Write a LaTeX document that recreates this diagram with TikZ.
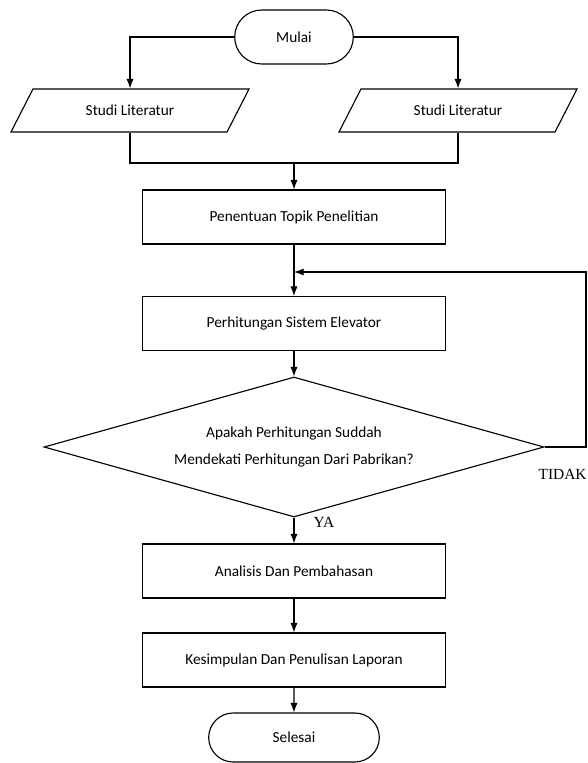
\documentclass[tikz,border=0pt]{standalone}
\usepackage{fontspec}
\setmainfont{Carlito}
\newfontfamily\tnr{Liberation Serif}
\usetikzlibrary{shapes,arrows.meta}
\newcommand{\terminal}[6]{\node[draw,rounded rectangle,minimum width=#4cm,minimum height=#5cm] (#1) at (#2,#3) {#6};}
\newcommand{\proses}[4]{\node[draw,rectangle,minimum width=7.575cm,minimum height=1.35cm] (#1) at (#2,#3) {#4};}
\newcommand{\data}[4]{\node[draw,trapezium,trapezium left angle=42.5,trapezium right angle=137.5,trapezium stretches body,minimum width=5.95cm,minimum height=1.075cm] (#1) at (#2,#3) {#4};}
\newcommand{\keputusan}[4]{\node[draw,diamond,aspect=3.6,inner sep=0pt,minimum width=12.5cm,minimum height=3.5cm,align=center] (#1) at (#2,#3) {#4};}
\newcommand{\link}[2]{\draw (#1) -- (#2);}
\newcommand{\linkArrow}[2]{\draw[->] (#1) -- (#2);}
\newcommand{\jawab}[4]{\node[font={\tnr\fontsize{11}{13}\selectfont},anchor=base west,inner sep=0pt] (#1) at (#2,#3) {#4};}

\begin{document}
\begin{tikzpicture}[line width=0.8pt,>={Latex[length=2.4mm,width=1.8mm]},font=\fontsize{10.9}{19.9}\selectfont]
    \useasboundingbox (-7.35,0) rectangle (7.35,-19.075);
    \terminal{mulai}{0}{-0.925}{3.2}{1.35}{Mulai}
    \data{studiA}{-4.1}{-2.7625}{Studi Literatur}    \data{studiB}{4.1}{-2.7625}{Studi Literatur}
    \proses{topik}{0}{-5.425}{Penentuan Topik Penelitian}
    \proses{hitung}{0}{-8.0875}{Perhitungan Sistem Elevator}
    \keputusan{cek}{0}{-11.175}{Apakah Perhitungan Suddah\\Mendekati Perhitungan Dari Pabrikan?}
    \proses{analisis}{0}{-14.275}{Analisis Dan Pembahasan}
    \proses{simpulan}{0}{-16.5}{Kesimpulan Dan Penulisan Laporan}
    \terminal{selesai}{0}{-18.4375}{4.5}{1.225}{Selesai}
    \jawab{ya}{0.475}{-13.175}{YA}    \jawab{tidak}{6.1}{-11.975}{TIDAK}
    \coordinate (gabung) at (0,-4.075); \coordinate (balik) at (0,-6.8); \coordinate (sudut) at (7.3,-6.8);

    \draw[->] (mulai.west) -| (studiA.north); \draw[->] (mulai.east) -| (studiB.north);
    \draw (studiA.south) |- (gabung) -| (studiB.south);
    \linkArrow{gabung}{topik}\linkArrow{topik}{hitung}\linkArrow{hitung}{cek}
    \linkArrow{cek}{analisis}\linkArrow{analisis}{simpulan}\linkArrow{simpulan}{selesai}
    \draw[->] (cek.east) -| (sudut) -- (balik);
\end{tikzpicture}
\end{document}
